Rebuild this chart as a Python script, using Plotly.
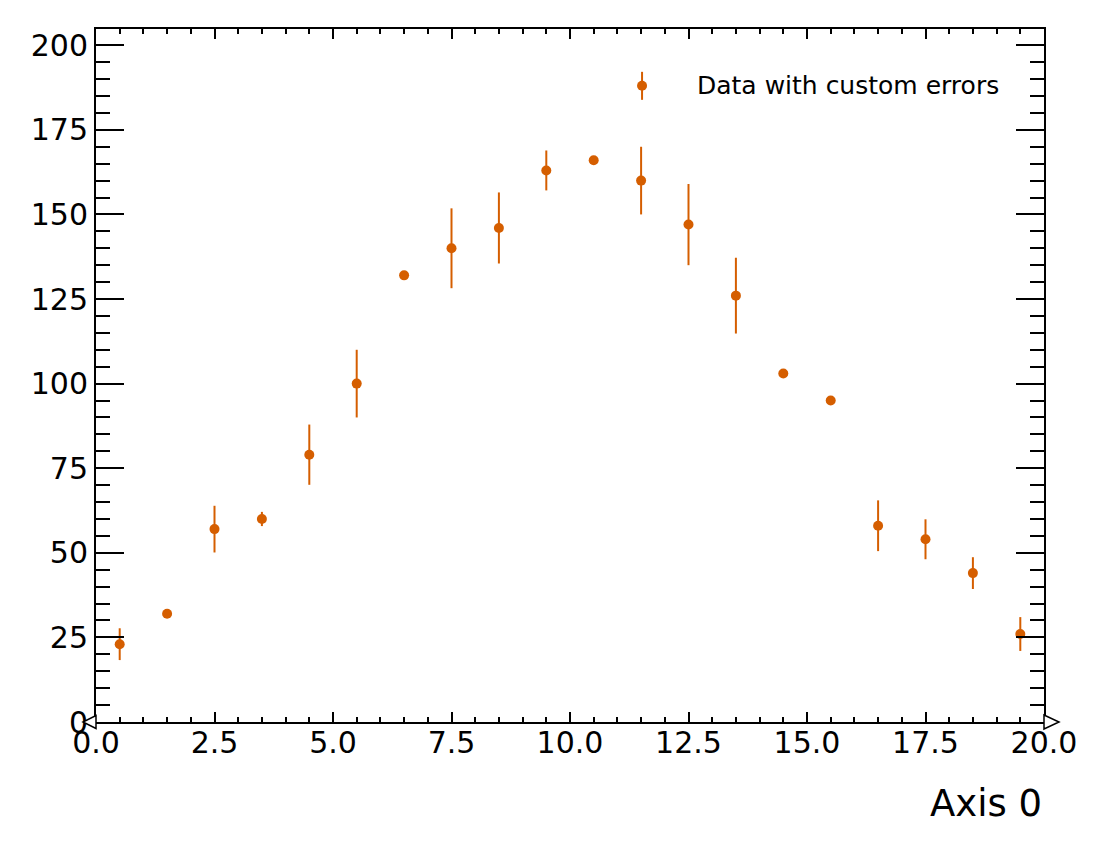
import plotly.graph_objects as go

# ---------------------------------------------------
# DATA
# ---------------------------------------------------

bin_centers = [0.5, 1.5, 2.5, 3.5, 4.5, 5.5, 6.5, 7.5, 8.5, 9.5,
               10.5, 11.5, 12.5, 13.5, 14.5, 15.5, 16.5, 17.5, 18.5, 19.5]
counts = [23, 32, 57, 60, 79, 100, 132, 140, 146, 163,
          166, 160, 147, 126, 103, 95, 58, 54, 44, 26]
custom_errors = [4.7, 1.0, 6.9, 2.1, 8.9, 10.0, 1.0, 11.8, 10.5, 5.9,
                 1.0, 10.0, 12.0, 11.2, 1.0, 1.0, 7.5, 5.9, 4.7, 5.0]

x_range = [0, 20]
y_range = [0, 204.8]
legend_label = "Data with custom errors"
x_title = "Axis 0"

COLOR = "#d55e00"
FONT = "DejaVu Sans"

# ---------------------------------------------------
# FIGURE
# ---------------------------------------------------

fig = go.Figure()

fig.add_trace(
    go.Scatter(
        x=bin_centers,
        y=counts,
        mode="markers",
        marker=dict(color=COLOR, size=10),
        error_y=dict(type="data", array=custom_errors, visible=True,
                     color=COLOR, thickness=2, width=0),
        name=legend_label,
        showlegend=False,
        cliponaxis=False,
    )
)

# hand-made legend (marker with its error bar)
lx, ly = 0.576, 0.918
fig.add_shape(type="line", xref="paper", yref="paper",
              xsizemode="pixel", ysizemode="pixel",
              xanchor=lx, yanchor=ly, x0=0, x1=0, y0=-14, y1=14,
              line=dict(color=COLOR, width=2))
fig.add_shape(type="circle", xref="paper", yref="paper",
              xsizemode="pixel", ysizemode="pixel",
              xanchor=lx, yanchor=ly, x0=-5, x1=5, y0=-5, y1=5,
              fillcolor=COLOR, line=dict(color=COLOR, width=0))
fig.add_annotation(x=0.632, y=ly, xref="paper", yref="paper",
                   text=legend_label, showarrow=False,
                   xanchor="left", yanchor="middle",
                   font=dict(family=FONT, size=25, color="black"))

# flow arrows at both ends of the x axis
fig.add_shape(type="path", xref="paper", yref="paper", layer="above",
              xsizemode="pixel", ysizemode="pixel",
              xanchor=0, yanchor=0,
              path="M 0 -6.5 L -13 0 L 0 6.5 Z",
              line=dict(color="black", width=1.5), fillcolor="white")
fig.add_shape(type="path", xref="paper", yref="paper", layer="above",
              xsizemode="pixel", ysizemode="pixel",
              xanchor=1, yanchor=0,
              path="M 0 -7 L 15 0 L 0 7 Z",
              line=dict(color="black", width=1.5), fillcolor="white")

# x axis title, right aligned
fig.add_annotation(x=1, y=0, xref="paper", yref="paper",
                   text=x_title, showarrow=False,
                   xanchor="right", yanchor="top", yshift=-58,
                   font=dict(family=FONT, size=37, color="black"))

fig.update_xaxes(
    range=x_range,
    tickmode="linear", tick0=0, dtick=2.5, tickformat=".1f",
    ticks="inside", ticklen=10, tickwidth=2, tickcolor="black",
    ticklabelstandoff=-7,
    minor=dict(dtick=0.5, ticks="inside", ticklen=5, tickwidth=1.5,
               tickcolor="black", showgrid=False),
    showline=True, linewidth=2, linecolor="black", mirror="ticks",
    showgrid=False, zeroline=False,
    tickfont=dict(family=FONT, size=30, color="black"),
)

fig.update_yaxes(
    range=y_range,
    tickmode="linear", tick0=0, dtick=25,
    ticks="inside", ticklen=28, tickwidth=2, tickcolor="black",
    minor=dict(dtick=5, ticks="inside", ticklen=14, tickwidth=1.5,
               tickcolor="black", showgrid=False),
    showline=True, linewidth=2, linecolor="black", mirror="ticks",
    showgrid=False, zeroline=False,
    tickfont=dict(family=FONT, size=30, color="black"),
)

# the page adds an 8px body margin, so the figure is 8px smaller each way
fig.update_layout(
    width=1100,
    height=850,
    margin=dict(l=88, r=64, t=21, b=136),
    plot_bgcolor="white",
    paper_bgcolor="white",
    font=dict(family=FONT, color="black"),
)

fig.write_html("out.html")
